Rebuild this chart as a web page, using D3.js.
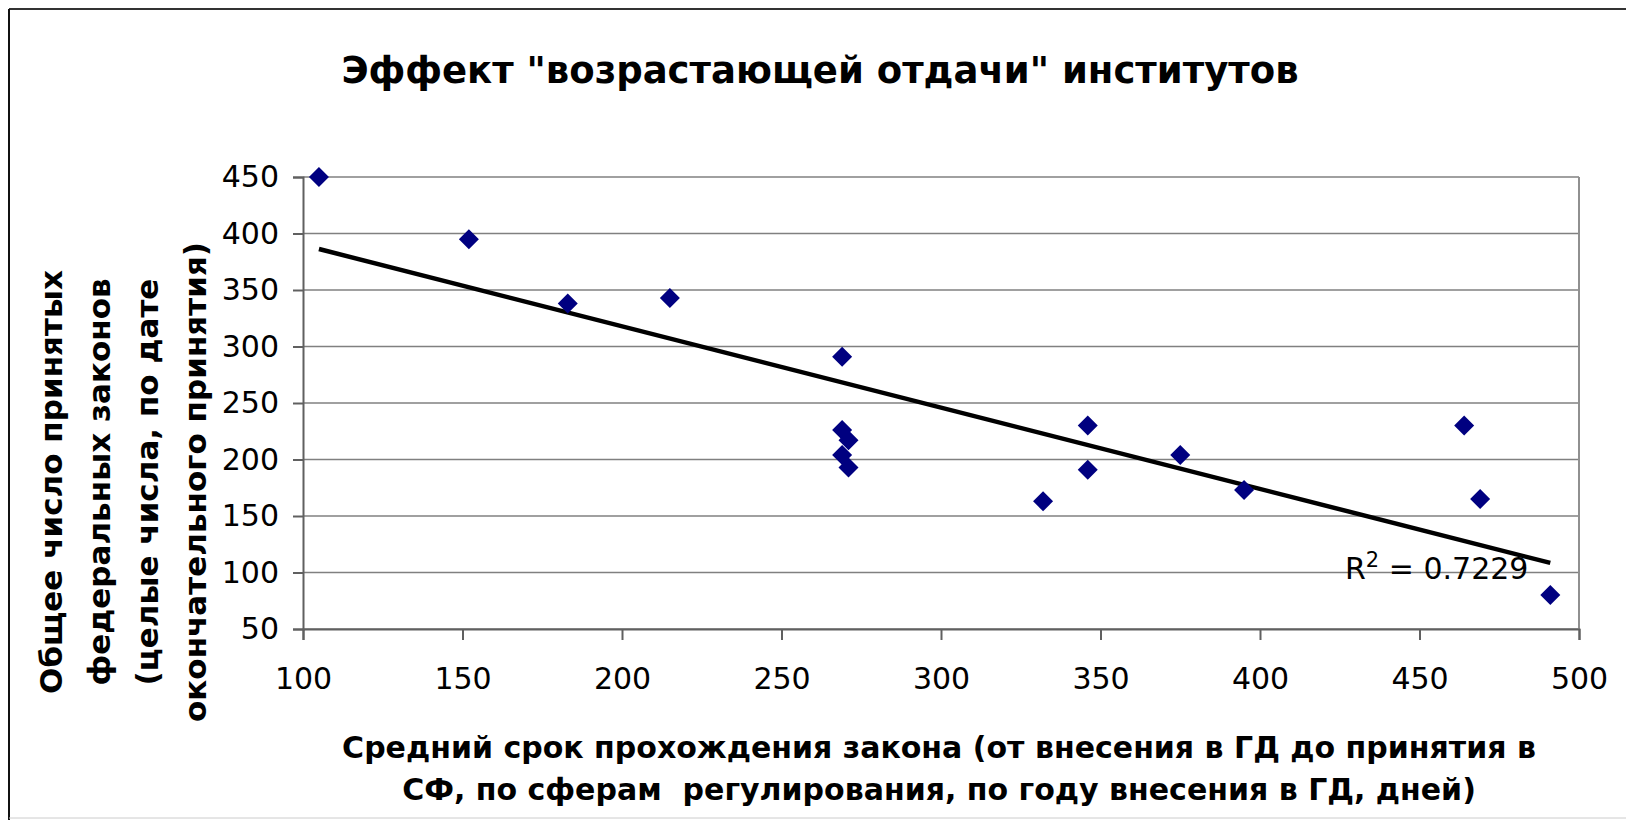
<!DOCTYPE html>
<html>
<head>
<meta charset="utf-8">
<script src="https://cdn.jsdelivr.net/npm/d3@7"></script>
<style>
    body { margin: 0; background: #fff; }
    svg text { font-family: "DejaVu Sans", Verdana, sans-serif; fill: #000; }
</style>
</head>
<body>
<div id="chart"></div>
<script>

var title = 'Эффект "возрастающей отдачи" институтов';
var xTitle = ['Средний срок прохождения закона (от внесения в ГД до принятия в',
              'СФ, по сферам  регулирования, по году внесения в ГД, дней)'];
var yTitle = ['Общее число принятых',
              'федеральных законов',
              '(целые числа, по дате',
              'окончательного принятия)'];

// средний срок, дней
var days = [105, 152, 183, 215, 269, 269, 271, 269, 271, 332, 346, 346, 375, 395, 464, 469, 491];
// число принятых законов
var laws = [450, 395, 338, 343, 291, 226, 217, 204, 193, 163, 230, 191, 204, 173, 230, 165, 80];

var xTicks = [100, 150, 200, 250, 300, 350, 400, 450, 500];
var yTicks = [50, 100, 150, 200, 250, 300, 350, 400, 450];
var r2Label = '0.7229';

var width = 1626;
var height = 820;
var plot = {left: 303, right: 1579, top: 177, bottom: 629};

var svg = d3.select('#chart')
    .append('svg')
    .attr('width', width)
    .attr('height', height);

// рамка диаграммы
svg.append('line').attr('x1', 9).attr('x2', width).attr('y1', 9).attr('y2', 9)
    .style('stroke', '#333').style('stroke-width', 2);
svg.append('line').attr('x1', 9).attr('x2', 9).attr('y1', 9).attr('y2', height)
    .style('stroke', '#111').style('stroke-width', 2);
svg.append('line').attr('x1', 9).attr('x2', width).attr('y1', 818).attr('y2', 818)
    .style('stroke', '#ccc').style('stroke-width', 1);

var x = d3.scaleLinear().domain([100, 500]).range([plot.left, plot.right]);
var y = d3.scaleLinear().domain([50, 450]).range([plot.bottom, plot.top]);

// сетка
svg.append('g')
    .selectAll('line')
    .data(yTicks)
    .enter().append('line')
    .attr('x1', plot.left)
    .attr('x2', plot.right)
    .attr('y1', function(d) { return y(d); })
    .attr('y2', function(d) { return y(d); })
    .style('stroke', '#808080')
    .style('stroke-width', 1.6);

svg.append('line')
    .attr('x1', plot.right).attr('x2', plot.right)
    .attr('y1', plot.top).attr('y2', plot.bottom)
    .style('stroke', '#909090').style('stroke-width', 2);

// оси
var yAxis = svg.append('g')
    .attr('transform', 'translate(' + plot.left + ',0)')
    .call(d3.axisLeft(y).tickValues(yTicks).tickSize(10).tickPadding(14));
var xAxis = svg.append('g')
    .attr('transform', 'translate(0,' + plot.bottom + ')')
    .call(d3.axisBottom(x).tickValues(xTicks).tickSize(11).tickPadding(28));

[xAxis, yAxis].forEach(function(a) {
    a.select('.domain').style('stroke', '#606060').style('stroke-width', 2);
    a.selectAll('.tick line').style('stroke', '#606060').style('stroke-width', 2);
    a.selectAll('.tick text')
        .style('font-size', '30px')
        .style('font-family', '"DejaVu Sans", Verdana, sans-serif')
        .style('fill', '#000');
});

// линия тренда (МНК)
var mx = d3.mean(days), my = d3.mean(laws);
var sxy = d3.sum(days, function(d, i) { return (d - mx) * (laws[i] - my); });
var sxx = d3.sum(days, function(d) { return (d - mx) * (d - mx); });
var slope = sxy / sxx;
var icpt = my - slope * mx;
var ext = d3.extent(days);

svg.append('line')
    .attr('x1', x(ext[0])).attr('y1', y(icpt + slope * ext[0]))
    .attr('x2', x(ext[1])).attr('y2', y(icpt + slope * ext[1]))
    .style('stroke', '#000')
    .style('stroke-width', 4.5);

// точки
svg.append('g')
    .selectAll('path')
    .data(days)
    .enter().append('path')
    .attr('transform', function(d, i) { return 'translate(' + x(d) + ',' + y(laws[i]) + ')'; })
    .attr('d', 'M0,-10L10,0L0,10L-10,0Z')
    .style('fill', '#000080');

// R^2
var r2 = svg.append('text')
    .attr('x', 1345)
    .attr('y', 579)
    .style('font-size', '30px');
r2.append('tspan').text('R');
r2.append('tspan').attr('dy', -12).style('font-size', '21px').text('2');
r2.append('tspan').attr('dy', 12).text(' = ' + r2Label);

// заголовки
svg.append('text')
    .attr('x', 820)
    .attr('y', 83)
    .attr('text-anchor', 'middle')
    .style('font-size', '37px')
    .style('font-weight', 'bold')
    .text(title);

svg.append('g')
    .selectAll('text')
    .data(xTitle)
    .enter().append('text')
    .attr('x', 939)
    .attr('y', function(d, i) { return 758 + i * 42; })
    .attr('text-anchor', 'middle')
    .style('font-size', '30px')
    .style('font-weight', 'bold')
    .style('white-space', 'pre')
    .text(function(d) { return d; });

svg.append('g')
    .selectAll('text')
    .data(yTitle)
    .enter().append('text')
    .attr('transform', function(d, i) { return 'translate(' + (62 + i * 48) + ',482) rotate(-90)'; })
    .attr('text-anchor', 'middle')
    .style('font-size', '31px')
    .style('font-weight', 'bold')
    .text(function(d) { return d; });

</script>
</body>
</html>
